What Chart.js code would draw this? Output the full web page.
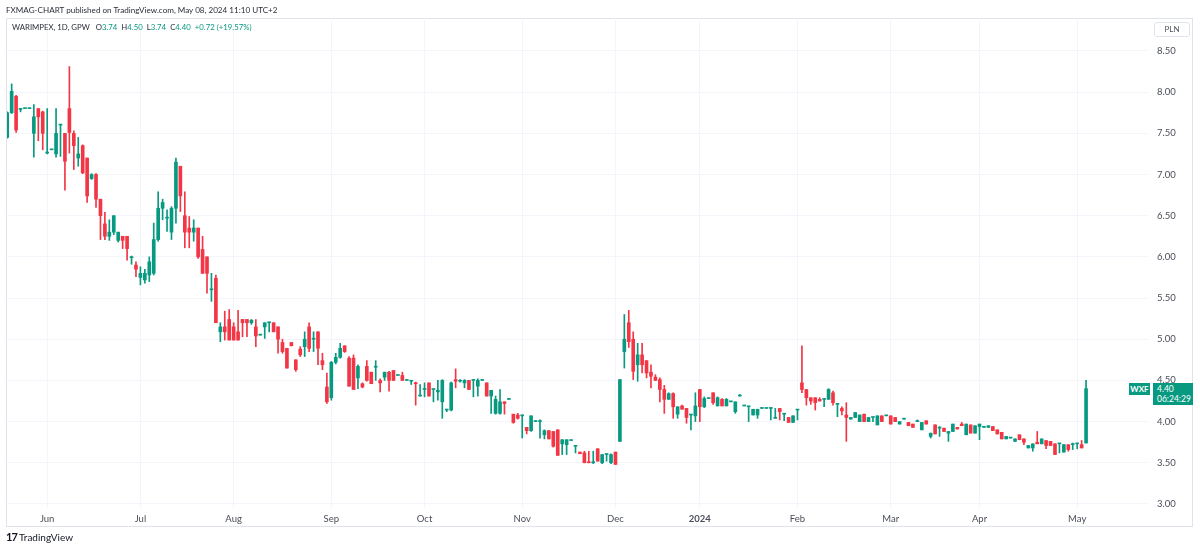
<!DOCTYPE html>
<html>
<head>
    <title>WARIMPEX, 1D, GPW</title>
    <script src="https://cdn.jsdelivr.net/npm/chart.js"></script>
    <style>
        body { margin: 0; background: #fff; font-family: Lato, "Noto Sans", sans-serif; color: #131722; }
        #wrap { position: relative; width: 1200px; height: 549px; overflow: hidden; }
        #chart { position: absolute; left: 0; top: 0; }
        .t { position: absolute; white-space: nowrap; }
        .g { color: #089981; }
        #frame { position: absolute; left: 6px; top: 18px; width: 1187px; height: 509px; border: 1px solid #e0e3eb; box-sizing: border-box; }
        #pln { position: absolute; left: 1154px; top: 22px; width: 36px; height: 15px; border: 1px solid #e0e3eb; border-radius: 3px; box-sizing: border-box; font-size: 8px; line-height: 13px; text-align: center; color: #50535e; }
        #tag { position: absolute; left: 1129px; top: 383px; width: 21px; height: 12px; background: #089981; color: #fff; font-size: 8px; font-weight: bold; line-height: 12px; text-align: center; }
        #last { position: absolute; left: 1153px; top: 383px; width: 40px; height: 22px; background: #089981; color: #fff; font-size: 8.5px; line-height: 10px; padding: 1px 0 0 4px; box-sizing: border-box; }
    </style>
</head>
<body>
<div id="wrap">
    <div id="frame"></div>
    <canvas id="chart" width="1200" height="549"></canvas>

    <div class="t" style="left:6px; top:5px; font-size:8.1px; color:#2a2e39;">FXMAG-CHART published on TradingView.com, May 08, 2024 11:10 UTC+2</div>
    <div class="t" style="left:12px; top:22px; font-size:7.8px; color:#2a2e39;">WARIMPEX, 1D, GPW&nbsp;&nbsp;&nbsp;O<span class="g">3.74</span>&nbsp;&nbsp;H<span class="g">4.50</span>&nbsp;&nbsp;L<span class="g">3.74</span>&nbsp;&nbsp;C<span class="g">4.40</span>&nbsp;&nbsp;<span class="g">+0.72 (+19.57%)</span></div>
    <div id="pln">PLN</div>
    <div id="tag">WXF</div>
    <div id="last">4.40<br>06:24:29</div>
    <div class="t" style="left:6px; top:530px; font-size:10px; color:#131722;"><b style="font-size:11px; letter-spacing:-1px;">17</b> TradingView</div>
</div>

<script>
// daily candles, index 0 = first bar on the left (late May 2023), last = May 08 2024
const opens = [
    7.45, 7.75, 7.95, 7.79, 7.80, 7.80, 7.50, 7.80, 7.76, 7.26,
    7.30, 7.25, 7.60, 7.50, 7.80, 7.50, 7.20, 7.35, 7.20, 6.95,
    7.00, 6.70, 6.40, 6.25, 6.30, 6.20, 6.25, 6.25, 5.99, 5.90,
    5.75, 5.72, 5.78, 5.80, 6.21, 6.59, 6.47, 6.30, 6.59, 7.10,
    6.50, 6.35, 6.30, 6.35, 6.09, 6.00, 5.60, 5.74, 5.09, 5.15,
    5.24, 5.15, 5.09, 5.24, 5.24, 5.20, 5.15, 5.05, 5.15, 5.20,
    5.20, 5.15, 4.96, 4.89, 4.96, 4.75, 4.88, 4.91, 5.15, 5.00,
    5.09, 4.74, 4.42, 4.29, 4.72, 4.78, 4.92, 4.77, 4.77, 4.53,
    4.46, 4.67, 4.60, 4.66, 4.50, 4.54, 4.60, 4.62, 4.56, 4.56,
    4.50, 4.49, 4.47, 4.31, 4.39, 4.47, 4.39, 4.36, 4.24, 4.14,
    4.14, 4.51, 4.49, 4.47, 4.50, 4.50, 4.43, 4.50, 4.47, 4.31,
    4.10, 4.10, 4.24, 4.27, 4.09, 4.08, 4.07, 3.93, 3.89, 4.00,
    4.00, 3.84, 3.89, 3.88, 3.90, 3.73, 3.72, 3.77, 3.70, 3.63,
    3.62, 3.51, 3.50, 3.67, 3.50, 3.60, 3.50, 3.63, 3.76, 4.85,
    5.20, 5.00, 4.69, 4.81, 4.74, 4.60, 4.54, 4.51, 4.39, 4.27,
    4.34, 4.09, 4.19, 4.16, 4.08, 4.07, 4.39, 4.18, 4.28, 4.35,
    4.19, 4.27, 4.19, 4.24, 4.12, 4.31, 4.19, 4.18, 4.08, 4.08,
    4.16, 4.16, 4.16, 4.04, 4.16, 4.09, 4.05, 3.99, 4.14, 4.47,
    4.39, 4.29, 4.29, 4.27, 4.27, 4.27, 4.35, 4.21, 4.16, 4.08,
    4.03, 4.05, 4.00, 4.09, 4.00, 4.05, 3.96, 4.07, 4.07, 4.07,
    4.05, 3.97, 4.03, 3.99, 3.97, 4.00, 3.90, 4.01, 3.82, 3.96,
    3.92, 3.92, 3.86, 3.88, 3.93, 3.97, 3.84, 3.96, 3.86, 3.94,
    3.93, 3.93, 3.94, 3.90, 3.87, 3.79, 3.80, 3.76, 3.84, 3.79,
    3.68, 3.68, 3.75, 3.73, 3.77, 3.76, 3.73, 3.73, 3.63, 3.72,
    3.72, 3.73, 3.72, 3.74
];
const highs = [
    7.76, 8.10, 7.96, 7.80, 7.80, 7.80, 7.85, 7.80, 7.77, 7.80,
    7.30, 7.80, 7.60, 7.50, 8.31, 7.53, 7.45, 7.36, 7.20, 7.01,
    7.01, 6.70, 6.54, 6.45, 6.50, 6.30, 6.25, 6.25, 6.01, 5.94,
    5.88, 5.85, 6.00, 6.41, 6.79, 6.70, 6.57, 6.61, 7.20, 7.10,
    6.79, 6.49, 6.45, 6.35, 6.25, 6.00, 5.80, 5.78, 5.20, 5.34,
    5.36, 5.20, 5.35, 5.24, 5.24, 5.24, 5.24, 5.05, 5.20, 5.20,
    5.20, 5.15, 5.00, 4.89, 4.96, 4.75, 4.91, 5.09, 5.20, 5.09,
    5.09, 4.83, 4.59, 4.73, 4.83, 4.95, 4.92, 4.79, 4.81, 4.69,
    4.47, 4.74, 4.60, 4.74, 4.52, 4.60, 4.61, 4.62, 4.56, 4.60,
    4.50, 4.49, 4.48, 4.45, 4.47, 4.47, 4.39, 4.50, 4.51, 4.15,
    4.48, 4.64, 4.51, 4.51, 4.50, 4.50, 4.52, 4.50, 4.47, 4.38,
    4.31, 4.39, 4.24, 4.27, 4.09, 4.10, 4.08, 3.93, 4.07, 4.01,
    4.02, 3.90, 3.89, 3.88, 3.90, 3.78, 3.78, 3.77, 3.70, 3.63,
    3.64, 3.64, 3.64, 3.67, 3.60, 3.61, 3.61, 3.63, 4.51, 5.30,
    5.35, 5.09, 4.95, 4.95, 4.74, 4.69, 4.57, 4.53, 4.44, 4.35,
    4.35, 4.18, 4.20, 4.16, 4.08, 4.35, 4.39, 4.30, 4.28, 4.35,
    4.30, 4.28, 4.28, 4.24, 4.24, 4.33, 4.19, 4.18, 4.15, 4.15,
    4.16, 4.16, 4.16, 4.16, 4.16, 4.09, 4.05, 4.07, 4.14, 4.92,
    4.39, 4.29, 4.29, 4.29, 4.27, 4.40, 4.37, 4.21, 4.18, 4.23,
    4.05, 4.11, 4.08, 4.09, 4.05, 4.05, 4.07, 4.07, 4.07, 4.07,
    4.05, 4.00, 4.03, 3.99, 3.97, 4.02, 3.99, 4.01, 3.86, 3.96,
    3.94, 3.92, 3.88, 3.97, 3.93, 3.99, 3.97, 3.96, 3.95, 3.97,
    3.94, 3.95, 3.94, 3.90, 3.87, 3.82, 3.80, 3.79, 3.84, 3.79,
    3.71, 3.73, 3.88, 3.79, 3.77, 3.76, 3.73, 3.73, 3.72, 3.72,
    3.74, 3.73, 3.77, 4.50
];
const lows = [
    7.44, 7.74, 7.51, 7.76, 7.80, 7.80, 7.21, 7.41, 7.30, 7.25,
    7.30, 7.21, 7.22, 6.81, 7.26, 7.06, 7.10, 7.01, 6.66, 6.94,
    6.60, 6.21, 6.21, 6.20, 6.27, 6.18, 6.10, 5.96, 5.91, 5.76,
    5.66, 5.68, 5.70, 5.78, 6.19, 6.45, 6.31, 6.21, 6.41, 6.55,
    6.11, 6.11, 6.19, 5.98, 5.80, 5.56, 5.46, 5.20, 4.97, 4.99,
    4.99, 4.99, 4.99, 5.03, 5.03, 5.18, 4.91, 5.05, 5.01, 5.09,
    5.09, 4.83, 4.83, 4.65, 4.92, 4.61, 4.79, 4.79, 4.85, 4.85,
    4.69, 4.63, 4.22, 4.26, 4.70, 4.77, 4.84, 4.43, 4.39, 4.40,
    4.41, 4.49, 4.46, 4.50, 4.36, 4.50, 4.37, 4.50, 4.56, 4.50,
    4.50, 4.45, 4.20, 4.31, 4.30, 4.31, 4.24, 4.26, 4.04, 4.12,
    4.13, 4.41, 4.48, 4.41, 4.39, 4.30, 4.31, 4.50, 4.31, 4.10,
    4.09, 4.09, 4.09, 4.27, 3.98, 4.03, 3.80, 3.85, 3.88, 4.00,
    3.80, 3.79, 3.79, 3.69, 3.59, 3.60, 3.60, 3.77, 3.62, 3.61,
    3.50, 3.50, 3.49, 3.52, 3.49, 3.52, 3.49, 3.48, 3.76, 4.65,
    4.90, 4.51, 4.49, 4.59, 4.53, 4.41, 4.50, 4.24, 4.10, 4.27,
    4.04, 4.04, 4.15, 3.98, 3.90, 4.00, 4.00, 4.17, 4.28, 4.21,
    4.19, 4.19, 4.19, 4.24, 4.10, 4.31, 4.19, 4.00, 4.08, 4.04,
    4.16, 4.16, 4.02, 4.04, 4.02, 4.01, 3.99, 3.99, 4.02, 4.35,
    4.20, 4.21, 4.14, 4.25, 4.18, 4.27, 4.20, 4.06, 4.08, 3.76,
    4.03, 4.05, 4.00, 4.00, 4.00, 4.00, 3.96, 4.00, 4.07, 3.97,
    4.00, 3.97, 4.03, 3.95, 3.93, 4.00, 3.90, 3.97, 3.80, 3.85,
    3.82, 3.88, 3.76, 3.88, 3.91, 3.95, 3.84, 3.86, 3.86, 3.78,
    3.93, 3.93, 3.89, 3.85, 3.79, 3.79, 3.80, 3.76, 3.78, 3.72,
    3.68, 3.64, 3.73, 3.73, 3.67, 3.71, 3.60, 3.62, 3.63, 3.64,
    3.66, 3.67, 3.68, 3.74
];
const closes = [
    7.75, 8.01, 7.54, 7.80, 7.80, 7.80, 7.70, 7.70, 7.50, 7.26,
    7.30, 7.50, 7.60, 7.16, 7.51, 7.35, 7.25, 7.02, 6.74, 7.00,
    6.70, 6.50, 6.25, 6.30, 6.50, 6.30, 6.20, 6.10, 5.99, 5.85,
    5.80, 5.80, 5.94, 6.21, 6.59, 6.66, 6.47, 6.59, 7.15, 6.74,
    6.30, 6.30, 6.35, 6.00, 5.80, 5.80, 5.60, 5.20, 5.15, 5.09,
    4.99, 4.99, 4.99, 5.20, 5.20, 5.23, 5.04, 5.05, 5.20, 5.20,
    5.09, 5.00, 4.85, 4.65, 4.92, 4.63, 4.81, 5.00, 4.89, 5.00,
    4.89, 4.69, 4.24, 4.72, 4.78, 4.89, 4.85, 4.43, 4.39, 4.67,
    4.42, 4.50, 4.46, 4.66, 4.47, 4.60, 4.50, 4.50, 4.56, 4.50,
    4.50, 4.49, 4.46, 4.31, 4.39, 4.31, 4.39, 4.38, 4.50, 4.14,
    4.47, 4.49, 4.49, 4.50, 4.39, 4.50, 4.50, 4.50, 4.31, 4.38,
    4.27, 4.24, 4.22, 4.27, 3.99, 4.04, 4.07, 3.89, 4.07, 4.00,
    4.00, 3.89, 3.79, 3.70, 3.59, 3.78, 3.78, 3.77, 3.70, 3.61,
    3.50, 3.50, 3.50, 3.52, 3.60, 3.60, 3.60, 3.48, 4.51, 5.00,
    4.97, 4.61, 4.81, 4.69, 4.59, 4.55, 4.50, 4.39, 4.27, 4.34,
    4.18, 4.18, 4.15, 4.05, 4.08, 4.19, 4.18, 4.28, 4.28, 4.23,
    4.29, 4.19, 4.27, 4.24, 4.24, 4.31, 4.19, 4.18, 4.15, 4.15,
    4.16, 4.16, 4.16, 4.04, 4.12, 4.09, 3.99, 4.07, 4.14, 4.39,
    4.29, 4.25, 4.23, 4.25, 4.27, 4.39, 4.23, 4.21, 4.13, 4.05,
    4.05, 4.11, 4.08, 4.00, 4.05, 4.05, 4.07, 4.00, 4.07, 3.97,
    4.00, 4.00, 4.03, 3.95, 3.93, 4.00, 3.99, 3.97, 3.86, 3.85,
    3.92, 3.88, 3.88, 3.97, 3.91, 3.95, 3.97, 3.86, 3.95, 3.97,
    3.93, 3.95, 3.89, 3.85, 3.79, 3.82, 3.80, 3.79, 3.78, 3.75,
    3.71, 3.73, 3.73, 3.79, 3.71, 3.71, 3.60, 3.73, 3.72, 3.66,
    3.72, 3.73, 3.68, 4.40
];

// time axis labels and the bar index where each one sits
const monthLabels = ['Jun', 'Jul', 'Aug', 'Sep', 'Oct', 'Nov', 'Dec', '2024', 'Feb', 'Mar', 'Apr', 'May'];
const monthIndex  = [9, 30, 51, 73, 94, 116, 137, 156, 178, 199, 219, 241];
const priceTicks  = [3.0, 3.5, 4.0, 4.5, 5.0, 5.5, 6.0, 6.5, 7.0, 7.5, 8.0, 8.5];

const UP = '#089981';
const DOWN = '#f23645';

const bodies = [], wicks = [], colors = [];
for (let i = 0; i < opens.length; i++) {
    const o = opens[i], c = closes[i];
    bodies.push({ x: i, y: [Math.min(o, c), Math.max(o, c)] });
    wicks.push({ x: i, y: [Math.min(lows[i], o, c), Math.max(highs[i], o, c)] });
    colors.push(c >= o ? UP : DOWN);
}

const textColor = '#4a4e59';
const gridColor = '#f3f5fa';

new Chart(document.getElementById('chart').getContext('2d'), {
    type: 'bar',
    data: {
        datasets: [{
            label: 'body',
            data: bodies,
            backgroundColor: colors,
            barThickness: 3,
            minBarLength: 1,
            grouped: false
        }, {
            label: 'wick',
            data: wicks,
            backgroundColor: colors,
            barThickness: 1,
            grouped: false
        }]
    },
    options: {
        responsive: false,
        animation: false,
        layout: { padding: { left: 7, top: 18, right: 8, bottom: 23 } },
        plugins: { legend: { display: false }, tooltip: { enabled: false } },
        scales: {
            x: {
                type: 'linear',
                min: -0.05,
                max: 256.95,
                offset: false,
                grid: { color: gridColor, offset: false, drawTicks: false },
                border: { display: false },
                afterBuildTicks: s => { s.ticks = monthIndex.map(v => ({ value: v })); },
                afterFit: s => { s.height = 18; },
                ticks: {
                    autoSkip: false,
                    maxRotation: 0,
                    padding: 5,
                    color: textColor,
                    font: ctx => ({ family: 'Lato', size: 9.5, weight: monthLabels[ctx.index] === '2024' ? 'bold' : 'normal' }),
                    callback: v => monthLabels[monthIndex.indexOf(v)]
                }
            },
            y: {
                position: 'right',
                min: 2.951,
                max: 8.9,
                beginAtZero: false,
                grid: { color: gridColor, drawTicks: false },
                border: { display: false },
                afterBuildTicks: s => { s.ticks = priceTicks.map(v => ({ value: v })); },
                afterFit: s => { s.width = 44; },
                ticks: {
                    autoSkip: false,
                    padding: 9,
                    color: textColor,
                    font: { family: 'Lato', size: 9.5 },
                    callback: v => v.toFixed(2)
                }
            }
        }
    }
});
</script>
</body>
</html>
